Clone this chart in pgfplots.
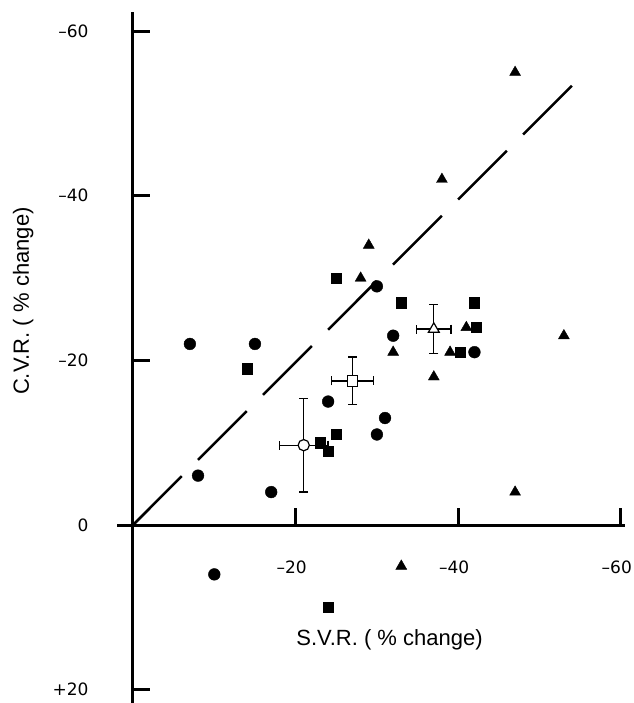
\documentclass[border=0pt]{standalone}
\usepackage{pgfplots}
\pgfplotsset{compat=1.18}
\usepackage{fontspec}
\setmainfont{Liberation Sans}
\newfontfamily\tickfont{DejaVu Sans}

\begin{document}
\begin{tikzpicture}[line width=3bp]
\begin{axis}[
  x=8.13bp, y=8.23bp,
  x dir=reverse, y dir=reverse,
  xmin=-60.5, xmax=2, ymin=-62.3, ymax=21.6,
  axis lines=middle,
  axis line style={-, line width=3bp},
  every inner x axis line/.append style={line width=3bp},
  every inner y axis line/.append style={line width=3bp},
  hide obscured x ticks=false, hide obscured y ticks=false,
  tick align=outside,
  major tick length=17bp,
  tick style={line width=3bp, black},
  major tick style={line width=3bp, black},
  xtick={-20,-40,-60}, xticklabels={–20,–40,–60},
  ytick={-60,-40,-20,0,20}, yticklabels={–60,–40,–20,0,+20},
  ticklabel style={font=\tickfont\fontsize{17bp}{20bp}\selectfont},
  xticklabel style={yshift=-15bp, xshift=-4bp},
  yticklabel style={xshift=-24bp},
  clip=false,
]
  \coordinate (O) at (axis cs:0,0);

  % identity line
  \addplot[black, line width=2.5bp, dash pattern=on 69bp off 23bp]
    coordinates {(0,0) (-54,-53.4)};

  % filled circles
  \addplot[only marks, mark=*, mark size=5.9bp, black, mark options={line width=0.4bp}]
    coordinates {
    (-7,-22) (-15,-22) (-8,-6) (-17,-4) (-10,6) (-24,-15)
    (-31,-13) (-30,-11) (-30,-29) (-32,-23) (-42,-21)
    };

  % filled squares
  \addplot[only marks, mark=square*, mark size=5.1bp, black, mark options={line width=0.4bp}]
    coordinates {
    (-14,-19) (-23,-10) (-24,-9) (-25,-11) (-24,10) (-25,-30)
    (-33,-27) (-42,-27) (-42.2,-24) (-40.2,-21)
    };

  % filled triangles
  \addplot[only marks, mark=triangle*, mark size=6.3bp, black, mark options={line width=0.4bp}]
    coordinates {
    (-47,-55) (-38,-42) (-29,-34) (-28,-30) (-32,-21) (-37,-18)
    (-33,5) (-47,-4) (-39,-21) (-41,-24) (-53,-23)
    };

  % group means with error bars
  \addplot[only marks, black, mark=*, mark size=5.6bp, mark options={fill=white, line width=1.2bp},
    error bars/.cd, x dir=both, x explicit, y dir=both, y explicit,
    error bar style={line width=1.3bp},
    error mark options={rotate=90, line width=1.3bp, mark size=4.5bp}]
    coordinates {(-21,-9.7) +- (3,5.7)};
  \addplot[only marks, black, mark=square*, mark size=5.2bp, mark options={fill=white, line width=1.2bp},
    error bars/.cd, x dir=both, x explicit, y dir=both, y explicit,
    error bar style={line width=1.3bp},
    error mark options={rotate=90, line width=1.3bp, mark size=4.5bp}]
    coordinates {(-27,-17.5) +- (2.6,2.9)};
  \addplot[only marks, black, mark=triangle*, mark size=6.3bp, mark options={fill=white, line width=1.2bp},
    error bars/.cd, x dir=both, x explicit, y dir=both, y explicit,
    error bar style={line width=1.3bp},
    error mark options={rotate=90, line width=1.3bp, mark size=4.5bp}]
    coordinates {(-37,-23.8) +- (2.1,3)};

  \node[font=\fontsize{22bp}{26bp}\selectfont, anchor=center] at (axis cs:-31.55,13.97) {S.V.R. ( \% change)};
  \node[font=\fontsize{22bp}{26bp}\selectfont, anchor=center, rotate=90] at (axis cs:13.5,-27.2) {C.V.R. ( \% change)};
\end{axis}
\pgfresetboundingbox
\path[use as bounding box] (O) ++(-133bp,-178bp) rectangle ++(634bp,703bp);
\end{tikzpicture}
\end{document}
